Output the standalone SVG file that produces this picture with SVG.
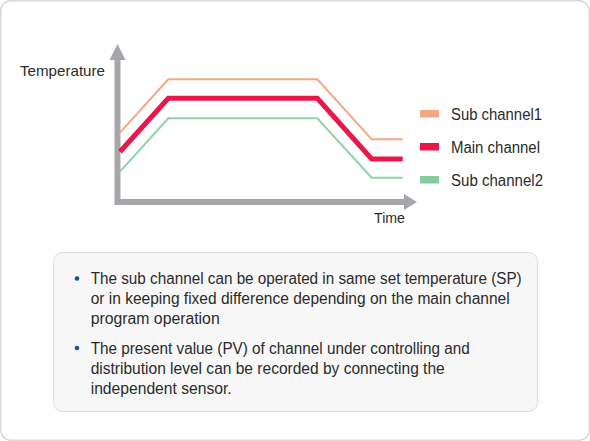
<svg xmlns="http://www.w3.org/2000/svg" width="590" height="441" viewBox="0 0 590 441">
<style>
text{font-family:"Liberation Sans","Noto Sans",sans-serif;fill:#2b2b2b}
.lbl{font-size:15px}
.leg{font-size:16px}
.body{font-size:16px}
.axis{stroke:#a7a7ab;stroke-width:6;fill:none}
.ah{fill:#a7a7ab}
.line{fill:none;stroke-linejoin:miter}
</style>
<rect x="0.75" y="0.75" width="588.5" height="439.5" rx="10" fill="#ffffff" stroke="#d9d9d9" stroke-width="1.5"/>
<g id="chart">
  <g id="axes">
    <path class="axis" d="M117.5,58 V202 H406"/>
    <polygon class="ah" points="117.5,44 109.5,60 125.5,60"/>
    <polygon class="ah" points="417,202 404,194 404,210"/>
  </g>
  <g id="connectors">
    <polyline class="line" stroke="#f6a683" stroke-width="2" points="120,132.7 168.3,79.3 317.3,79.3 371.7,139.3 402.7,139.3"/>
    <polyline class="line" stroke="#e8174c" stroke-width="5" points="120,151.7 168.3,98.3 317.3,98.3 371.7,159 402.7,159"/>
    <polyline class="line" stroke="#8fd3a6" stroke-width="2" points="120,171.7 168.3,118.3 317.3,118.3 371.7,177.7 402.7,177.7"/>
  </g>
  <text id="ylabel" class="lbl" x="20" y="76" textLength="85" lengthAdjust="spacingAndGlyphs">Temperature</text>
  <text id="xlabel" class="lbl" x="374" y="223" textLength="31" lengthAdjust="spacingAndGlyphs">Time</text>
</g>
<g id="legend">
  <g id="leg-sub1">
    <rect x="420" y="110" width="19" height="7.5" fill="#f6a683"/>
    <text class="leg" x="451" y="119.5" textLength="91" lengthAdjust="spacingAndGlyphs">Sub channel1</text>
  </g>
  <g id="leg-main">
    <rect x="420" y="143" width="19" height="7.5" fill="#e8174c"/>
    <text class="leg" x="451" y="152.8" textLength="89" lengthAdjust="spacingAndGlyphs">Main channel</text>
  </g>
  <g id="leg-sub2">
    <rect x="420" y="176" width="19" height="7.5" fill="#85cc9e"/>
    <text class="leg" x="451" y="186" textLength="92" lengthAdjust="spacingAndGlyphs">Sub channel2</text>
  </g>
</g>
<g id="notes">
  <rect x="53.5" y="252.5" width="484" height="159" rx="9" fill="#f7f7f7" stroke="#dcdcdc" stroke-width="1"/>
  <circle cx="77" cy="278.5" r="2.3" fill="#1c4f9c"/>
  <circle cx="77" cy="348" r="2.3" fill="#1c4f9c"/>
  <text class="body" x="90.7" y="284" textLength="431" lengthAdjust="spacingAndGlyphs">The sub channel can be operated in same set temperature (SP)</text>
  <text class="body" x="90.7" y="304" textLength="419" lengthAdjust="spacingAndGlyphs">or in keeping fixed difference depending on the main channel</text>
  <text class="body" x="90.7" y="323.5" textLength="129" lengthAdjust="spacingAndGlyphs">program operation</text>
  <text class="body" x="90.7" y="353.5" textLength="379" lengthAdjust="spacingAndGlyphs">The present value (PV) of channel under controlling and</text>
  <text class="body" x="90.7" y="373.5" textLength="354" lengthAdjust="spacingAndGlyphs">distribution level can be recorded by connecting the</text>
  <text class="body" x="90.7" y="393.5" textLength="141" lengthAdjust="spacingAndGlyphs">independent sensor.</text>
</g>
</svg>
